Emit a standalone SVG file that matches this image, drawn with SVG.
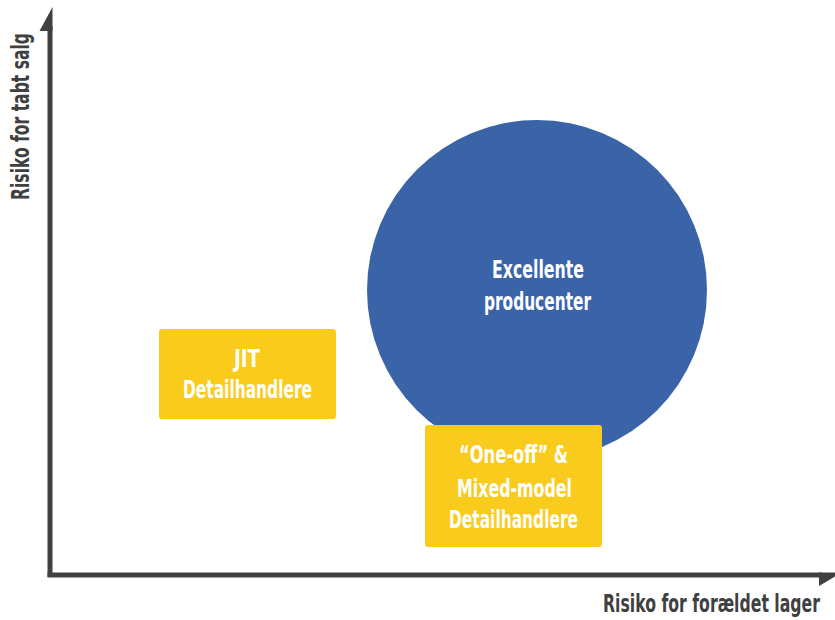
<svg xmlns="http://www.w3.org/2000/svg" width="835" height="620" viewBox="0 0 835 620">
<style>
.t{font-family:"DejaVu Sans Condensed","DejaVu Sans",sans-serif;font-weight:bold;font-stretch:condensed;text-anchor:middle;}
.w{fill:#ffffff;font-size:24px;}
.ax{fill:#404040;font-size:25px;}
.box{fill:#F9CB1C;}
</style>
<rect width="835" height="620" fill="#ffffff"/>
<g id="axes">
<line x1="50" y1="577" x2="50" y2="26" stroke="#404040" stroke-width="5"/>
<polygon points="39.5,31 52.5,7 52.5,31" fill="#404040"/>
<line x1="47.5" y1="575" x2="822" y2="575" stroke="#404040" stroke-width="5"/>
<polygon points="819,572.5 842,572.5 819,586" fill="#404040"/>
<text class="t ax" transform="translate(29,116.5) rotate(-90) scale(0.7,1)" textLength="238.6" lengthAdjust="spacingAndGlyphs">Risiko for tabt salg</text>
<text class="t ax" transform="translate(711.5,612) scale(0.7,1)" textLength="310" lengthAdjust="spacingAndGlyphs">Risiko for forældet lager</text>
</g>
<g id="excellente">
<circle cx="537" cy="290" r="170" fill="#3A63A8"/>
<text class="t w" transform="translate(538,278) scale(0.7,1)" textLength="131.4" lengthAdjust="spacingAndGlyphs">Excellente</text>
<text class="t w" transform="translate(537.5,310) scale(0.7,1)" textLength="152.9" lengthAdjust="spacingAndGlyphs">producenter</text>
</g>
<g id="jit">
<rect class="box" x="159" y="329" width="177" height="90" rx="3"/>
<text class="t w" transform="translate(247,367) scale(0.7,1)" textLength="37.1" lengthAdjust="spacingAndGlyphs">JIT</text>
<text class="t w" transform="translate(247.5,398) scale(0.7,1)" textLength="184.3" lengthAdjust="spacingAndGlyphs">Detailhandlere</text>
</g>
<g id="oneoff">
<rect class="box" x="425" y="425" width="177" height="122" rx="3"/>
<text class="t w" transform="translate(513.5,463) scale(0.7,1)" textLength="155.7" lengthAdjust="spacingAndGlyphs">“One-off” &amp;</text>
<text class="t w" transform="translate(514.5,497) scale(0.7,1)" textLength="164.3" lengthAdjust="spacingAndGlyphs">Mixed-model</text>
<text class="t w" transform="translate(513.5,528) scale(0.7,1)" textLength="184.3" lengthAdjust="spacingAndGlyphs">Detailhandlere</text>
</g>
</svg>
